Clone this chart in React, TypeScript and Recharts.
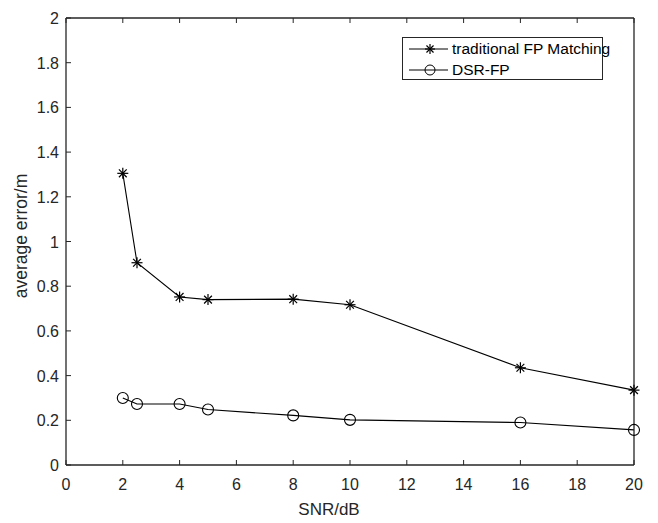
import React from "react";
import { LineChart, Line, XAxis, YAxis } from "recharts";

const snr = [2, 2.5, 4, 5, 8, 10, 16, 20];
const traditional = [1.305, 0.905, 0.752, 0.74, 0.742, 0.717, 0.435, 0.335];
const dsr = [0.3, 0.273, 0.273, 0.248, 0.222, 0.202, 0.19, 0.157];
const xTicks = [0, 2, 4, 6, 8, 10, 12, 14, 16, 18, 20];
const yTicks = [0, 0.2, 0.4, 0.6, 0.8, 1, 1.2, 1.4, 1.6, 1.8, 2];
const seriesNames = ["traditional FP Matching", "DSR-FP"];

const data = snr.map((s, i) => ({ snr: s, trad: traditional[i], dsr: dsr[i] }));

const FONT = "'Liberation Sans', Arial, sans-serif";
const TL = 5;
const TICK_FS = 16;

const BottomTick = (props: any) => {
  const { x, y, payload } = props;
  return (
    <g>
      <line x1={x} x2={x} y1={y} y2={y - TL} stroke="#262626" strokeWidth={1} />
      <text x={x} y={y + 25} textAnchor="middle" fontSize={TICK_FS} fontFamily={FONT} fill="#262626">
        {payload.value}
      </text>
    </g>
  );
};
const TopTick = (props: any) => {
  const { x, y } = props;
  return <line x1={x} x2={x} y1={y} y2={y + TL} stroke="#262626" strokeWidth={1} />;
};
const LeftTick = (props: any) => {
  const { x, y, payload } = props;
  return (
    <g>
      <line x1={x} x2={x + TL} y1={y} y2={y} stroke="#262626" strokeWidth={1} />
      <text x={x - 7} y={y + 6} textAnchor="end" fontSize={TICK_FS} fontFamily={FONT} fill="#262626">
        {payload.value}
      </text>
    </g>
  );
};
const RightTick = (props: any) => {
  const { x, y } = props;
  return <line x1={x} x2={x - TL} y1={y} y2={y} stroke="#262626" strokeWidth={1} />;
};

const Star = ({ cx, cy, r = 5 }: any) => {
  const lines = [];
  for (let k = 0; k < 4; k++) {
    const a = (k * Math.PI) / 4;
    lines.push(
      <line key={k} x1={cx - r * Math.cos(a)} y1={cy - r * Math.sin(a)} x2={cx + r * Math.cos(a)} y2={cy + r * Math.sin(a)} stroke="#000" strokeWidth={1.2} />
    );
  }
  return <g>{lines}</g>;
};
const StarDot = (props: any) => {
  const { cx, cy } = props;
  if (cx == null || cy == null) return <g />;
  return <Star cx={cx} cy={cy} r={5.5} />;
};
const CircleDot = (props: any) => {
  const { cx, cy } = props;
  if (cx == null || cy == null) return <g />;
  return <circle cx={cx} cy={cy} r={5.5} fill="none" stroke="#000" strokeWidth={1.1} />;
};

const LegendBox = () => (
  <div
    style={{
      position: "absolute",
      left: 394,
      top: 29,
      boxSizing: "border-box",
      width: 201,
      height: 43,
      border: "1px solid #262626",
      background: "#fff",
      padding: "0px 0px 0px 5px",
      fontFamily: FONT,
      fontSize: 15.5,
      color: "#000",
      lineHeight: "21px",
    }}
  >
    <div style={{ display: "flex", alignItems: "center", height: 21 }}>
      <svg width={42} height={16} style={{ flex: "none" }}>
        <line x1={1} x2={40} y1={8} y2={8} stroke="#000" strokeWidth={1} />
        <Star cx={22} cy={8} r={5} />
      </svg>
      <span style={{ marginLeft: 2, whiteSpace: "nowrap" }}>{seriesNames[0]}</span>
    </div>
    <div style={{ display: "flex", alignItems: "center", height: 21 }}>
      <svg width={42} height={16} style={{ flex: "none" }}>
        <line x1={1} x2={40} y1={8} y2={8} stroke="#000" strokeWidth={1} />
        <circle cx={22} cy={8} r={5} fill="none" stroke="#000" strokeWidth={1} />
      </svg>
      <span style={{ marginLeft: 2, whiteSpace: "nowrap" }}>{seriesNames[1]}</span>
    </div>
  </div>
);

export default function App() {
  return (
    <div style={{ position: "relative", width: 650, height: 515 }}>
      <LineChart width={650} height={515} data={data} margin={{ top: 9, right: 23, bottom: 20, left: 8 }}>
        <XAxis
          xAxisId="b"
          dataKey="snr"
          type="number"
          domain={[0, 20]}
          ticks={xTicks}
          interval={0}
          height={38}
          tickSize={0}
          tickMargin={0}
          tick={<BottomTick />}
          axisLine={{ stroke: "#262626", strokeWidth: 1.3 }}
          tickLine={false}
        />
        <XAxis
          xAxisId="t"
          orientation="top"
          dataKey="snr"
          type="number"
          domain={[0, 20]}
          ticks={xTicks}
          interval={0}
          height={1}
          tickSize={0}
          tickMargin={0}
          tick={<TopTick />}
          axisLine={{ stroke: "#262626", strokeWidth: 1.3 }}
          tickLine={false}
        />
        <YAxis
          yAxisId="l"
          type="number"
          domain={[0, 2]}
          ticks={yTicks}
          interval={0}
          width={50}
          tickSize={0}
          tickMargin={0}
          tick={<LeftTick />}
          axisLine={{ stroke: "#262626", strokeWidth: 1.3 }}
          tickLine={false}
        />
        <YAxis
          yAxisId="r"
          orientation="right"
          type="number"
          domain={[0, 2]}
          ticks={yTicks}
          interval={0}
          width={1}
          tickSize={0}
          tickMargin={0}
          tick={<RightTick />}
          axisLine={{ stroke: "#262626", strokeWidth: 1.3 }}
          tickLine={false}
        />
        <Line
          xAxisId="b"
          yAxisId="l"
          dataKey="trad"
          name={seriesNames[0]}
          stroke="#000"
          strokeWidth={1.1}
          dot={<StarDot />}
          activeDot={false}
          isAnimationActive={false}
        />
        <Line
          xAxisId="b"
          yAxisId="l"
          dataKey="dsr"
          name={seriesNames[1]}
          stroke="#000"
          strokeWidth={1.1}
          dot={<CircleDot />}
          activeDot={false}
          isAnimationActive={false}
        />
      </LineChart>
      <LegendBox />
      <div
        style={{
          position: "absolute",
          left: 321,
          top: 492,
          transform: "translateX(-50%)",
          fontFamily: FONT,
          fontSize: 17,
          lineHeight: "20px",
          color: "#262626",
          whiteSpace: "nowrap",
        }}
      >
        SNR/dB
      </div>
      <div
        style={{
          position: "absolute",
          left: 13,
          top: 228,
          transform: "translate(-50%, -50%) rotate(-90deg)",
          fontFamily: FONT,
          fontSize: 17.5,
          lineHeight: "20px",
          color: "#262626",
          whiteSpace: "nowrap",
        }}
      >
        average error/m
      </div>
    </div>
  );
}
